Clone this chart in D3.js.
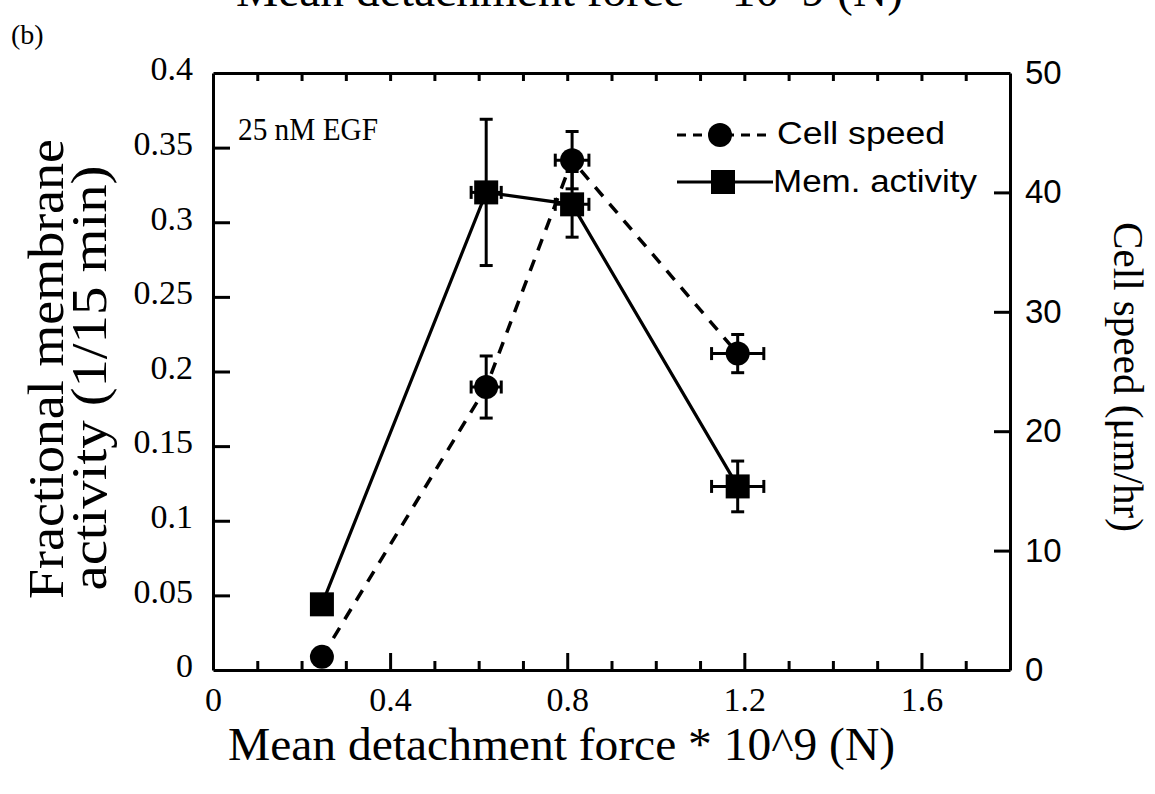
<!DOCTYPE html>
<html>
<head>
<meta charset="utf-8">
<script src="https://cdn.jsdelivr.net/npm/d3@7"></script>
<style>
  html, body { margin: 0; padding: 0; background: #fff; }
  svg { display: block; }
</style>
</head>
<body>
<svg id="chart" width="1155" height="794"></svg>
<script>
// ---- data ----
const force      = [0.246, 0.617, 0.811, 1.185];   // mean detachment force * 10^9 (N)
const forceErr   = [0, 0.034, 0.038, 0.059];
const memActivity = [0.044, 0.320, 0.312, 0.123];  // fractional membrane activity (1/15 min)
const memErr      = [0, 0.049, 0.022, 0.017];
const cellSpeed   = [1.1, 23.7, 42.7, 26.5];       // cell speed (um/hr)
const speedErr    = [0, 2.6, 2.4, 1.6];
const xTickValues = [0, 0.4, 0.8, 1.2, 1.6];
const xMinorValues = [0.1, 0.2, 0.3, 0.5, 0.6, 0.7, 0.9, 1.0, 1.1, 1.3, 1.4, 1.5, 1.7];
const leftTickValues = [0, 0.05, 0.1, 0.15, 0.2, 0.25, 0.3, 0.35, 0.4];
const rightTickValues = [0, 10, 20, 30, 40, 50];
const seriesNames = ["Cell speed", "Mem. activity"];

const svg = d3.select("#chart");
const M = { left: 213, right: 1010, top: 73, bottom: 670 };

const x = d3.scaleLinear().domain([0, 1.8]).range([M.left, M.right]);
const yL = d3.scaleLinear().domain([0, 0.4]).range([M.bottom, M.top]);
const yR = d3.scaleLinear().domain([0, 50]).range([M.bottom, M.top]);

const serif = "'Liberation Serif', 'Times New Roman', serif";
const sans = "'Liberation Sans', Arial, Helvetica, sans-serif";

function styleAxis(g, font, size) {
  g.selectAll(".domain").attr("stroke", "#000").attr("stroke-width", 3);
  g.selectAll(".tick line").attr("stroke", "#000").attr("stroke-width", 3);
  g.selectAll(".tick text").attr("font-family", font).attr("font-size", size).attr("fill", "#000");
}

// bottom axis (major)
const gB = svg.append("g").attr("transform", `translate(0,${M.bottom})`)
  .call(d3.axisBottom(x).tickValues(xTickValues).tickSizeInner(-17).tickSizeOuter(0).tickPadding(17)
    .tickFormat(d => d === 0 ? "0" : d3.format(".1f")(d)));
styleAxis(gB, serif, 34);
// bottom minor ticks
const gBm = svg.append("g").attr("transform", `translate(0,${M.bottom})`)
  .call(d3.axisBottom(x).tickValues(xMinorValues).tickSizeInner(-9).tickSizeOuter(0).tickFormat(""));
styleAxis(gBm, serif, 34);
gBm.select(".domain").remove();

// top axis
const gT = svg.append("g").attr("transform", `translate(0,${M.top})`)
  .call(d3.axisTop(x).tickValues(xMinorValues.concat(xTickValues.slice(1))).tickSizeInner(-8).tickSizeOuter(0).tickFormat(""));
styleAxis(gT, serif, 34);

// left axis
const gL = svg.append("g").attr("transform", `translate(${M.left},0)`)
  .call(d3.axisLeft(yL).tickValues(leftTickValues).tickSizeInner(-17).tickSizeOuter(0).tickPadding(20)
    .tickFormat(d => d === 0 ? "0" : String(+d.toFixed(2))));
styleAxis(gL, serif, 34);
gL.selectAll(".tick text").attr("dy", "0.2em");
gL.selectAll(".tick").filter(d => d === 0 || d === 0.4).select("line").remove();

// right axis
const gR = svg.append("g").attr("transform", `translate(${M.right},0)`)
  .call(d3.axisRight(yR).tickValues(rightTickValues).tickSizeInner(-16).tickSizeOuter(0).tickPadding(15)
    .tickFormat(d3.format("d")));
styleAxis(gR, sans, 33);
gR.selectAll(".tick").filter(d => d === 0 || d === 50).select("line").remove();

// ---- series ----
const memPts = force.map((f, i) => ({ x: f, y: memActivity[i], ex: forceErr[i], ey: memErr[i] }));
const spdPts = force.map((f, i) => ({ x: f, y: cellSpeed[i], ex: forceErr[i], ey: speedErr[i] }));

const lineMem = d3.line().x(d => x(d.x)).y(d => yL(d.y));
const lineSpd = d3.line().x(d => x(d.x)).y(d => yR(d.y));

svg.append("path").datum(spdPts).attr("d", lineSpd)
  .attr("fill", "none").attr("stroke", "#000").attr("stroke-width", 3.5).attr("stroke-dasharray", "12,10");
svg.append("path").datum(memPts).attr("d", lineMem)
  .attr("fill", "none").attr("stroke", "#000").attr("stroke-width", 3.2);

function errorBars(pts, yScale) {
  const cap = 6.5;
  const g = svg.append("g").attr("stroke", "#000").attr("stroke-width", 3);
  pts.filter(d => d.ey > 0).forEach(d => {
    const cx = x(d.x), y1 = yScale(d.y - d.ey), y2 = yScale(d.y + d.ey);
    g.append("line").attr("x1", cx).attr("x2", cx).attr("y1", y1).attr("y2", y2);
    g.append("line").attr("x1", cx - cap).attr("x2", cx + cap).attr("y1", y1).attr("y2", y1);
    g.append("line").attr("x1", cx - cap).attr("x2", cx + cap).attr("y1", y2).attr("y2", y2);
  });
  pts.filter(d => d.ex > 0).forEach(d => {
    const cy = yScale(d.y), x1 = x(d.x - d.ex), x2 = x(d.x + d.ex);
    g.append("line").attr("x1", x1).attr("x2", x2).attr("y1", cy).attr("y2", cy);
    g.append("line").attr("x1", x1).attr("x2", x1).attr("y1", cy - cap).attr("y2", cy + cap);
    g.append("line").attr("x1", x2).attr("x2", x2).attr("y1", cy - cap).attr("y2", cy + cap);
  });
}
errorBars(spdPts, yR);
errorBars(memPts, yL);

// markers
svg.append("g").selectAll("circle").data(spdPts).join("circle")
  .attr("cx", d => x(d.x)).attr("cy", d => yR(d.y)).attr("r", 12).attr("fill", "#000");
svg.append("g").selectAll("rect").data(memPts).join("rect")
  .attr("x", d => x(d.x) - 12).attr("y", d => yL(d.y) - 12).attr("width", 24).attr("height", 24).attr("fill", "#000");

// ---- legend ----
const lg = svg.append("g");
lg.append("line").attr("x1", 677).attr("x2", 773).attr("y1", 135).attr("y2", 135)
  .attr("stroke", "#000").attr("stroke-width", 3).attr("stroke-dasharray", "9,7");
lg.append("circle").attr("cx", 720).attr("cy", 135).attr("r", 12).attr("fill", "#000");
lg.append("text").attr("x", 777).attr("y", 144).attr("font-family", sans).attr("font-size", 31)
  .attr("textLength", 168).attr("lengthAdjust", "spacingAndGlyphs").text(seriesNames[0]);
lg.append("line").attr("x1", 677).attr("x2", 773).attr("y1", 182).attr("y2", 182)
  .attr("stroke", "#000").attr("stroke-width", 3);
lg.append("rect").attr("x", 711).attr("y", 170).attr("width", 24).attr("height", 24).attr("fill", "#000");
lg.append("text").attr("x", 773).attr("y", 192).attr("font-family", sans).attr("font-size", 31)
  .attr("textLength", 204).attr("lengthAdjust", "spacingAndGlyphs").text(seriesNames[1]);

// ---- annotations and titles ----
svg.append("text").attr("x", 238).attr("y", 140).attr("font-family", serif).attr("font-size", 31)
  .attr("textLength", 140).attr("lengthAdjust", "spacingAndGlyphs").text("25 nM EGF");

svg.append("text").attr("x", 11).attr("y", 44).attr("font-family", serif).attr("font-size", 28)
  .text("(b)");

// cut-off text from the panel above (only its lower edge is visible, as in the source figure)
svg.append("text").attr("x", 236).attr("y", 6).attr("font-family", serif).attr("font-size", 46)
  .attr("textLength", 667).attr("lengthAdjust", "spacingAndGlyphs")
  .text("Mean detachment force * 10^9 (N)");

svg.append("text").attr("x", 228).attr("y", 760).attr("font-family", serif).attr("font-size", 46)
  .attr("textLength", 667).attr("lengthAdjust", "spacingAndGlyphs")
  .text("Mean detachment force * 10^9 (N)");

svg.append("text").attr("transform", "translate(63,369) rotate(-90)").attr("text-anchor", "middle")
  .attr("font-family", serif).attr("font-size", 50)
  .attr("textLength", 460).attr("lengthAdjust", "spacingAndGlyphs").text("Fractional membrane");
svg.append("text").attr("transform", "translate(106,378) rotate(-90)").attr("text-anchor", "middle")
  .attr("font-family", serif).attr("font-size", 50)
  .attr("textLength", 425).attr("lengthAdjust", "spacingAndGlyphs").text("activity (1/15 min)");

svg.append("text").attr("transform", "translate(1114,377) rotate(90)").attr("text-anchor", "middle")
  .attr("font-family", serif).attr("font-size", 42)
  .attr("textLength", 310).attr("lengthAdjust", "spacingAndGlyphs").text("Cell speed (μm/hr)");
</script>
</body>
</html>
